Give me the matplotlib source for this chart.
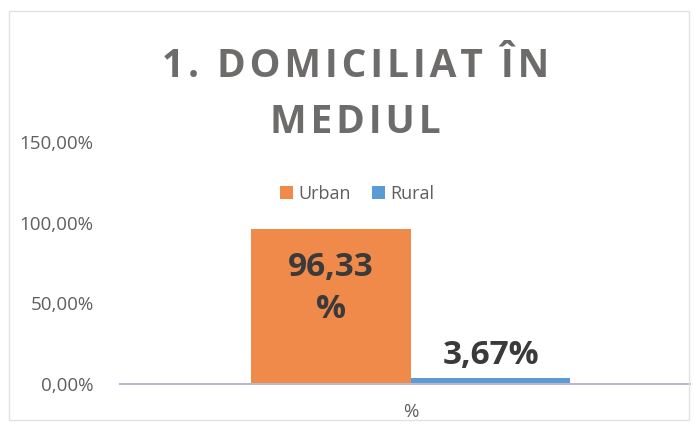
import matplotlib
matplotlib.use("Agg")
import matplotlib.pyplot as plt
from matplotlib.ticker import FuncFormatter
from matplotlib.patches import Rectangle

# data
title_lines = ["1. DOMICILIAT ÎN", "MEDIUL"]
category = ["%"]
series_names = ["Urban", "Rural"]
series_values = [96.33, 3.67]
series_labels = ["96,33\n%", "3,67%"]
colors = ["#F08A4B", "#5B9BD5"]
y_ticks = [0, 50, 100, 150]

plt.rcParams["font.family"] = ["Open Sans", "DejaVu Sans"]

fig = plt.figure(figsize=(6.94, 4.29), dpi=100)
ax = fig.add_axes([0.173, 0.105, 0.821, 0.564])

bar_w = 0.28
offsets = [-bar_w / 2, bar_w / 2]
for name, val, col, off in zip(series_names, series_values, colors, offsets):
    ax.bar(0 + off, val, width=bar_w, color=col, label=name, zorder=2)

# data labels
ax.text(offsets[0], series_values[0] - 14, series_labels[0], ha="center", va="top",
        fontsize=24, fontweight="bold", color="#3A3A3A", linespacing=1.35, zorder=3)
ax.text(offsets[1], series_values[1] + 4, series_labels[1], ha="center", va="bottom",
        fontsize=24, fontweight="bold", color="#3A3A3A", zorder=3)

ax.set_xlim(-0.5105, 0.4895)
ax.set_ylim(0, 150)
ax.set_yticks(y_ticks)
ax.yaxis.set_major_formatter(FuncFormatter(lambda v, p: f"{v:.2f}%".replace(".", ",")))
ax.set_xticks([0])
ax.set_xticklabels(category)
ax.tick_params(axis="both", length=0, labelsize=13.5, labelcolor="#5F5F5F")
ax.tick_params(axis="y", pad=19)
ax.tick_params(axis="x", pad=14)
for s in ["top", "right", "left"]:
    ax.spines[s].set_visible(False)
ax.spines["bottom"].set_color("#BDB6CF")
ax.spines["bottom"].set_linewidth(1.5)

leg = ax.legend(loc="center", bbox_to_anchor=(0.416, 0.785), ncol=2, frameon=False,
                fontsize=13, handlelength=0.7, handleheight=0.7, handletextpad=0.3,
                columnspacing=1.2)
for t in leg.get_texts():
    t.set_color("#5F5F5F")

# title, slightly letter-spaced
for y, line in zip([0.846, 0.714], title_lines):
    fig.text(0.512, y, "\u200a".join(line), ha="center", va="center", fontsize=28,
             fontweight="bold", color="#6E6B6B", family=["Open Sans", "DejaVu Sans"])

# faint chart border
fig.patches.append(Rectangle((0.013, 0.02), 0.98, 0.955, transform=fig.transFigure,
                             fill=False, edgecolor="#E2E2E2", linewidth=1))

fig.savefig("out.png", dpi=100)
